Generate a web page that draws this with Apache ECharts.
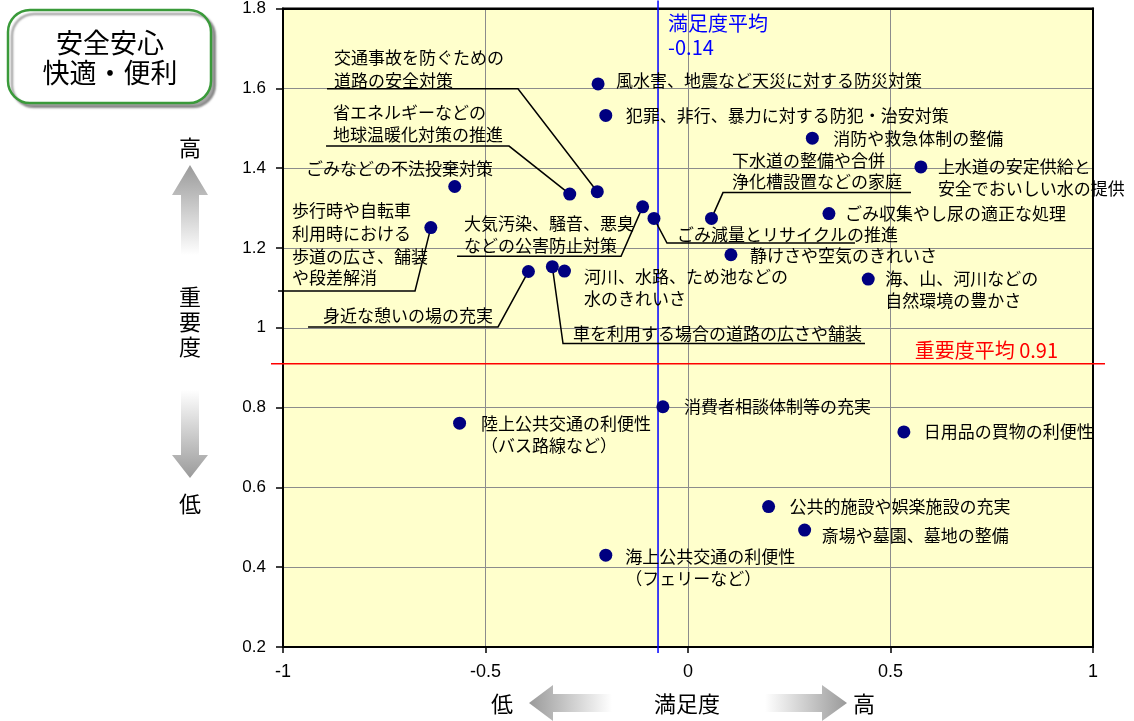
<!DOCTYPE html>
<html><head><meta charset="utf-8">
<script src="https://cdn.jsdelivr.net/npm/echarts@6/dist/echarts.min.js"></script>
<style>html,body{margin:0;padding:0;background:#fff;}#c{width:1134px;height:721px;}</style>
</head><body><div id="c"></div>
<script>
// ---- data ----
const ITEM_LABELS = [
  ["風水害、地震など天災に対する防災対策"],
  ["犯罪、非行、暴力に対する防犯・治安対策"],
  ["消防や救急体制の整備"],
  ["上水道の安定供給と", "安全でおいしい水の提供"],
  ["ごみ収集やし尿の適正な処理"],
  ["下水道の整備や合併", "浄化槽設置などの家庭"],
  ["ごみ減量とリサイクルの推進"],
  ["大気汚染、騒音、悪臭", "などの公害防止対策"],
  ["歩行時や自転車", "利用時における", "歩道の広さ、舗装", "や段差解消"],
  ["ごみなどの不法投棄対策"],
  ["省エネルギーなどの", "地球温暖化対策の推進"],
  ["交通事故を防ぐための", "道路の安全対策"],
  ["河川、水路、ため池などの", "水のきれいさ"],
  ["身近な憩いの場の充実"],
  ["車を利用する場合の道路の広さや舗装"],
  ["静けさや空気のきれいさ"],
  ["海、山、河川などの", "自然環境の豊かさ"],
  ["消費者相談体制等の充実"],
  ["陸上公共交通の利便性", "（バス路線など）"],
  ["日用品の買物の利便性"],
  ["公共的施設や娯楽施設の充実"],
  ["斎場や墓園、墓地の整備"],
  ["海上公共交通の利便性", "（フェリーなど）"]
];
const SATISFACTION = [-0.222, -0.203, 0.307, 0.575, 0.348, 0.058, -0.084, -0.112, -0.635, -0.576, -0.292, -0.224, -0.305, -0.394, -0.335, 0.106, 0.445, -0.062, -0.564, 0.533, 0.199, 0.288, -0.203];
const IMPORTANCE   = [1.611, 1.532, 1.475, 1.403, 1.286, 1.274, 1.274, 1.303, 1.251, 1.354, 1.335, 1.341, 1.142, 1.141, 1.153, 1.183, 1.122, 0.802, 0.761, 0.739, 0.552, 0.493, 0.430];
const SAT_AVG_LINE = -0.074;          // where the blue line is drawn
const SAT_AVG_TEXT = ["満足度平均", "-0.14"];
const IMP_AVG_LINE = 0.91;
const IMP_AVG_TEXT = "重要度平均 0.91";
const X_RANGE = [-1, 1, 0.5];
const Y_RANGE = [0.2, 1.8, 0.2];
const TITLE_LINES = ["安全安心", "快適・便利"];

// ---- label layout (pixel offsets from each point) ----
const LABEL_LAYOUT = [
  {x: 18, ys: [-3]},
  {x: 20, ys: [0]},
  {x: 21, ys: [0]},
  {x: 17, ys: [0, 22]},
  {x: 16, ys: [0]},
  {x: 20.5, ys: [-57.4, -36.6], path: [[0,0],[11.5,-25.8],[199.5,-25.8]]},
  {x: 23, ys: [16], path: [[0,0],[13,24.6],[201,24.6]]},
  {x: -178.6, ys: [16.5, 38.5], path: [[0,0],[-21.6,49.5],[-185.6,49.5]]},
  {x: -138.8, ys: [-17.3, 5.7, 28.7, 50.2], path: [[0,0],[-15.8,63.4],[-152.8,63.4]]},
  {x: -148.7, ys: [-17.8]},
  {x: -236.7, ys: [-81.7, -59.7], path: [[0,0],[-60.7,-48],[-243.7,-48]]},
  {x: -263.3, ys: [-134.6, -111.3], path: [[0,0],[-79.3,-103],[-270.3,-103]]},
  {x: 19.5, ys: [5, 27]},
  {x: -205.4, ys: [44.3], path: [[0,0],[-30.4,55.5],[-220.4,55.5]]},
  {x: 20.7, ys: [67], path: [[0,0],[10.7,76.9],[312.7,76.9]]},
  {x: 19, ys: [1]},
  {x: 17, ys: [-1, 21]},
  {x: 21, ys: [-0.5]},
  {x: 21.4, ys: [0, 22.5]},
  {x: 20, ys: [0]},
  {x: 21, ys: [0]},
  {x: 17, ys: [5]},
  {x: 19.5, ys: [1, 23.5]}
];

const JP = '"Noto Sans CJK JP", "Noto Sans", sans-serif';
const NUM = '"Liberation Sans", Arial, sans-serif';
const points = SATISFACTION.map((v, i) => [v, IMPORTANCE[i], i]);

const chart = echarts.init(document.getElementById('c'), null, {renderer: 'canvas'});

function vGrad(c0, c1) {
  return {type: 'linear', x: 0, y: 0, x2: 0, y2: 1, colorStops: [{offset: 0, color: c0}, {offset: 1, color: c1}]};
}
function hGrad(c0, c1) {
  return {type: 'linear', x: 0, y: 0, x2: 1, y2: 0, colorStops: [{offset: 0, color: c0}, {offset: 1, color: c1}]};
}
const GRAY = '#9a9a9a';

const option = {
  animation: false,
  backgroundColor: '#ffffff',
  grid: {left: 283, right: 41, top: 8, bottom: 74, show: true, backgroundColor: '#FFFFCC', borderColor: '#000', borderWidth: 2},
  xAxis: [{
    type: 'value', min: X_RANGE[0], max: X_RANGE[1], interval: X_RANGE[2],
    axisLine: {show: true, onZero: false, lineStyle: {color: '#000', width: 2}},
    axisTick: {show: true, length: 6, lineStyle: {color: '#000', width: 1.5}},
    splitLine: {show: true, showMinLine: false, showMaxLine: false, lineStyle: {color: '#8c8c8c', width: 1}},
    axisLabel: {color: '#000', fontSize: 18, fontFamily: NUM, margin: 16, formatter: v => String(+v.toFixed(1))}
  }, {
    type: 'value', position: 'top', min: X_RANGE[0], max: X_RANGE[1], interval: X_RANGE[2],
    axisLine: {show: true, onZero: false, lineStyle: {color: '#000', width: 2}},
    axisTick: {show: false}, axisLabel: {show: false}, splitLine: {show: false}
  }],
  yAxis: [{
    type: 'value', min: Y_RANGE[0], max: Y_RANGE[1], interval: Y_RANGE[2],
    axisLine: {show: true, onZero: false, lineStyle: {color: '#000', width: 2}},
    axisTick: {show: true, length: 7, lineStyle: {color: '#000', width: 1.5}},
    splitLine: {show: true, showMinLine: false, showMaxLine: false, lineStyle: {color: '#8c8c8c', width: 1}},
    axisLabel: {color: '#000', fontSize: 17, fontFamily: NUM, margin: 17, formatter: v => String(+v.toFixed(1))}
  }, {
    type: 'value', position: 'right', min: Y_RANGE[0], max: Y_RANGE[1], interval: Y_RANGE[2],
    axisLine: {show: true, onZero: false, lineStyle: {color: '#000', width: 2}},
    axisTick: {show: false}, axisLabel: {show: false}, splitLine: {show: false}
  }],
  graphic: [
    {type: 'rect', shape: {x: 8, y: 10, width: 203, height: 93, r: 22}, style: {fill: '#fff', stroke: '#3a9a3a', lineWidth: 2.5, shadowColor: 'rgba(0,0,0,0.35)', shadowOffsetX: 4, shadowOffsetY: 4, shadowBlur: 2}},
    {type: 'text', style: {text: TITLE_LINES[0], x: 110, y: 43, align: 'center', verticalAlign: 'middle', fill: '#000', fontSize: 27, fontFamily: JP}},
    {type: 'text', style: {text: TITLE_LINES[1], x: 110, y: 73, align: 'center', verticalAlign: 'middle', fill: '#000', fontSize: 27, fontFamily: JP}},
    // y-axis description
    {type: 'text', style: {text: '高', x: 190, y: 148, align: 'center', verticalAlign: 'middle', fill: '#000', fontSize: 22, fontFamily: JP}},
    {type: 'polygon', shape: {points: [[190,165],[208,195],[199,195],[199,255],[181,255],[181,195],[172,195]]}, style: {fill: vGrad(GRAY, '#ffffff')}},
    {type: 'text', style: {text: '重', x: 190, y: 297, align: 'center', verticalAlign: 'middle', fill: '#000', fontSize: 22, fontFamily: JP}},
    {type: 'text', style: {text: '要', x: 190, y: 322, align: 'center', verticalAlign: 'middle', fill: '#000', fontSize: 22, fontFamily: JP}},
    {type: 'text', style: {text: '度', x: 190, y: 347, align: 'center', verticalAlign: 'middle', fill: '#000', fontSize: 22, fontFamily: JP}},
    {type: 'polygon', shape: {points: [[181,390],[199,390],[199,455],[208,455],[190,478],[172,455],[181,455]]}, style: {fill: vGrad('#ffffff', GRAY)}},
    {type: 'text', style: {text: '低', x: 190, y: 504, align: 'center', verticalAlign: 'middle', fill: '#000', fontSize: 22, fontFamily: JP}},
    // x-axis description
    {type: 'text', style: {text: '低', x: 502, y: 704, align: 'center', verticalAlign: 'middle', fill: '#000', fontSize: 22, fontFamily: JP}},
    {type: 'polygon', shape: {points: [[529,703],[553,685],[553,694],[612,694],[612,712],[553,712],[553,721]]}, style: {fill: hGrad(GRAY, '#ffffff')}},
    {type: 'text', style: {text: '満足度', x: 687, y: 704, align: 'center', verticalAlign: 'middle', fill: '#000', fontSize: 22, fontFamily: JP}},
    {type: 'polygon', shape: {points: [[847,703],[822,685],[822,694],[765,694],[765,712],[822,712],[822,721]]}, style: {fill: hGrad('#ffffff', GRAY)}},
    {type: 'text', style: {text: '高', x: 864, y: 704, align: 'center', verticalAlign: 'middle', fill: '#000', fontSize: 22, fontFamily: JP}}
  ],
  series: [
    {
      type: 'custom', z: 2, silent: true, clip: false,
      data: [[SAT_AVG_LINE, IMP_AVG_LINE]],
      encode: {x: 0, y: 1},
      renderItem: function (params, api) {
        const p = api.coord([api.value(0), api.value(1)]);
        const top = api.coord([api.value(0), Y_RANGE[1]])[1];
        const bot = api.coord([api.value(0), Y_RANGE[0]])[1];
        const left = api.coord([X_RANGE[0], api.value(1)])[0];
        const right = api.coord([X_RANGE[1], api.value(1)])[0];
        return {type: 'group', children: [
          {type: 'line', shape: {x1: p[0], y1: top - 8, x2: p[0], y2: bot + 6}, style: {stroke: '#0000ff', lineWidth: 1.5}},
          {type: 'line', shape: {x1: left - 12, y1: p[1], x2: right + 12, y2: p[1]}, style: {stroke: '#ff0000', lineWidth: 1.5}},
          {type: 'text', style: {text: SAT_AVG_TEXT[0], x: p[0] + 10, y: top + 15, verticalAlign: 'middle', fill: '#0000ff', fontSize: 20, fontFamily: JP}},
          {type: 'text', style: {text: SAT_AVG_TEXT[1], x: p[0] + 10, y: top + 39, verticalAlign: 'middle', fill: '#0000ff', fontSize: 20, fontFamily: JP}},
          {type: 'text', style: {text: IMP_AVG_TEXT, x: right - 35, y: p[1] - 13, align: 'right', verticalAlign: 'middle', fill: '#ff0000', fontSize: 20, fontFamily: JP}}
        ]};
      }
    },
    {
      type: 'custom', z: 3, silent: true, clip: false,
      data: points,
      encode: {x: 0, y: 1},
      renderItem: function (params, api) {
        const idx = api.value(2);
        const p = api.coord([api.value(0), api.value(1)]);
        const L = LABEL_LAYOUT[idx];
        const children = [];
        if (L.path) {
          children.push({type: 'polyline', shape: {points: L.path.map(q => [p[0] + q[0], p[1] + q[1]])}, style: {stroke: '#000', lineWidth: 1.5, fill: null}});
        }
        ITEM_LABELS[idx].forEach((t, k) => {
          children.push({type: 'text', style: {text: t, x: p[0] + L.x, y: p[1] + L.ys[k], verticalAlign: 'middle', align: 'left', fill: '#000', fontSize: 17, fontFamily: JP}});
        });
        return {type: 'group', children: children};
      }
    },
    {
      type: 'scatter', z: 5, silent: true,
      data: points, encode: {x: 0, y: 1},
      symbol: 'circle', symbolSize: 13,
      itemStyle: {color: '#000080', opacity: 1}
    }
  ]
};
chart.setOption(option);
</script>
</body></html>
